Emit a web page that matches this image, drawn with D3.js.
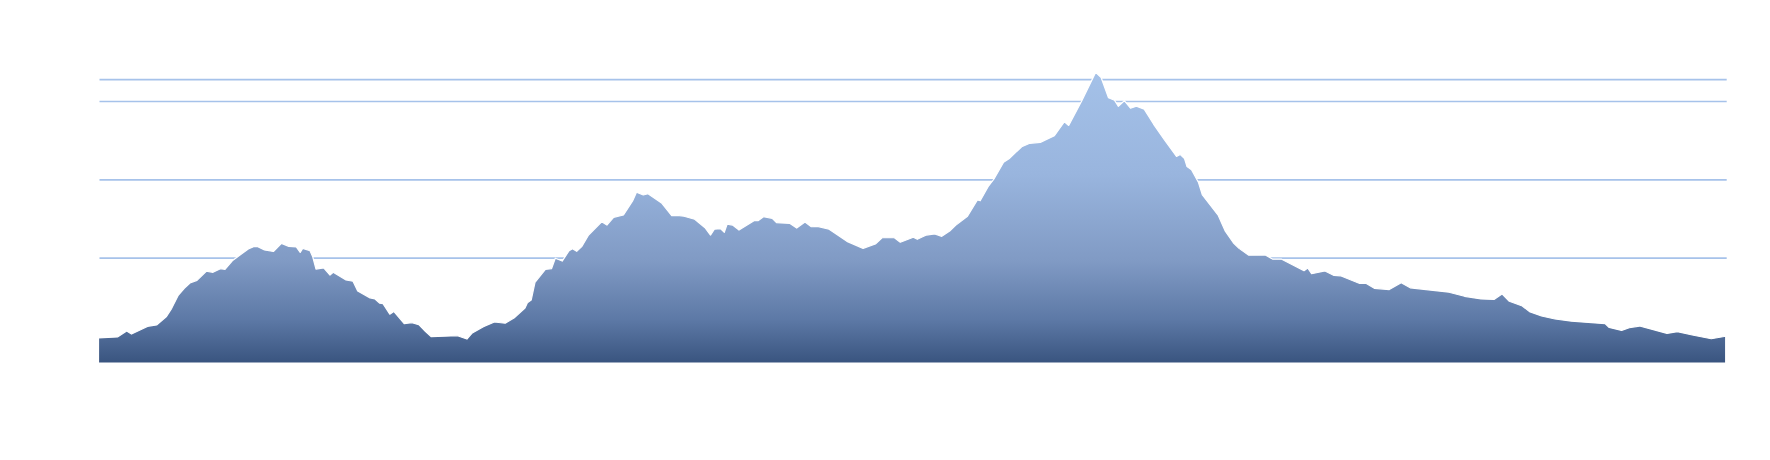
<!DOCTYPE html>
<html>
<head>
<meta charset="utf-8">
<script src="https://cdn.jsdelivr.net/npm/d3@7"></script>
<style>
  body { margin: 0; background: #fff; }
  svg { display: block; }
</style>
</head>
<body>
<div id="profile"></div>
<script>
// distance (km) and elevation (m)
const distance = [0, 1.90, 2.82, 3.30, 4.15, 4.90, 5.81, 6.80, 7.32, 7.95, 8.58, 9.15, 9.85, 10.78, 11.45, 12.19, 12.65, 13.38, 14.22, 14.98,
  15.50, 15.88, 16.60, 17.49, 18.30, 19.03, 19.78, 20.17, 20.42, 21.15, 21.43, 21.75, 22.52, 23.15, 23.47, 24.75, 25.45, 25.92, 27.15, 27.65,
  28.13, 28.45, 29.13, 29.53, 30.57, 31.35, 32.03, 32.68, 33.28, 35.90, 36.84, 37.38, 38.49, 39.59, 40.67, 41.55, 42.65, 42.89, 43.27, 43.65,
  44.69, 45.30, 45.68, 46.37, 47.06, 47.40, 47.82, 48.32, 49.01, 50.32, 50.84, 51.51, 52.50, 53.41, 53.80, 54.48, 54.95, 56.34, 57.32, 57.84,
  58.55, 59.62, 60.65, 61.20, 61.59, 62.19, 62.58, 62.86, 63.41, 64.05, 65.55, 65.95, 66.50, 67.37, 67.80, 69.11, 69.82, 70.65, 71.28, 71.88,
  73.06, 74.84, 76.46, 77.69, 78.36, 79.59, 80.18, 81.48, 81.88, 82.79, 83.62, 84.33, 85.12, 85.71, 86.90, 87.89, 88.17, 88.96, 89.55, 90.51,
  91.05, 92.32, 93.13, 94.18, 95.59, 96.59, 97.02, 98.37, 99.71, 100.27, 101.00, 101.60, 101.99, 102.58, 103.20, 103.79, 104.57, 105.50, 106.60, 107.80,
  108.18, 108.60, 108.85, 109.30, 110.00, 110.39, 111.98, 112.68, 113.48, 114.05, 115.03, 116.68, 117.43, 118.32, 120.55, 120.92, 121.31, 122.65, 123.55, 124.20,
  126.12, 126.78, 127.58, 129.08, 130.27, 131.17, 135.05, 136.60, 138.25, 139.55, 140.35, 141.08, 142.38, 143.10, 144.30, 145.65, 147.30, 150.68, 151.07, 152.31,
  153.08, 154.10, 155.48, 156.85, 157.89, 159.38, 161.28, 162.72];
const elevation = [490, 496, 534, 515, 541, 564, 573, 627, 679, 760, 807, 841, 858, 916, 909, 932, 928, 983, 1023, 1058,
  1073, 1074, 1052, 1042, 1094, 1075, 1071, 1036, 1062, 1047, 1007, 930, 937, 892, 909, 860, 852, 790, 746, 739,
  712, 709, 642, 659, 582, 587, 575, 533, 498, 504, 483, 522, 562, 592, 584, 617, 681, 715, 732, 845,
  928, 932, 999, 981, 1047, 1060, 1043, 1073, 1147, 1232, 1211, 1260, 1275, 1365, 1420, 1403, 1411, 1350, 1271, 1273,
  1267, 1248, 1194, 1147, 1184, 1188, 1165, 1216, 1211, 1179, 1239, 1239, 1264, 1254, 1226, 1222, 1192, 1230, 1200, 1203,
  1184, 1107, 1062, 1090, 1130, 1130, 1101, 1133, 1120, 1147, 1154, 1139, 1173, 1209, 1267, 1371, 1366, 1456, 1505, 1612,
  1634, 1711, 1733, 1739, 1782, 1871, 1847, 2010, 2186, 2152, 2024, 2008, 1969, 2005, 1957, 1970, 1951, 1856, 1754, 1649,
  1661, 1636, 1584, 1564, 1483, 1403, 1272, 1172, 1098, 1062, 1018, 1020, 993, 993, 919, 937, 900, 918, 889, 887,
  838, 838, 807, 799, 843, 810, 782, 756, 739, 736, 771, 724, 694, 658, 630, 611, 597, 581, 557, 538,
  555, 566, 543, 519, 530, 509, 485, 501];
const gridValues = [1000, 1500, 2000, 2140];

const width = 1770;
const height = 460;
const margin = { left: 98.5, right: 44.3, top: 78, bottom: 97 };

const data = distance.map((d, i) => ({ km: d, ele: elevation[i] }));

const x = d3.scaleLinear()
    .domain([0, d3.max(distance)])
    .range([margin.left, width - margin.right]);

const y = d3.scaleLinear()
    .domain([330, 2150])
    .range([height - margin.bottom, margin.top]);

const svg = d3.select("#profile").append("svg")
    .attr("width", width)
    .attr("height", height);

const grad = svg.append("defs").append("linearGradient")
    .attr("id", "fill")
    .attr("gradientUnits", "userSpaceOnUse")
    .attr("x1", 0).attr("x2", 0)
    .attr("y1", y(2186)).attr("y2", y(330));

[[0, "#a4c1e8"], [0.35, "#99b5de"], [0.65, "#809ac4"], [0.85, "#5d79a6"], [1, "#39547f"]]
    .forEach(s => grad.append("stop").attr("offset", s[0]).attr("stop-color", s[1]));

svg.append("g")
    .selectAll("line")
    .data(gridValues)
    .enter().append("line")
    .attr("x1", x(0) + 1)
    .attr("x2", x(d3.max(distance)) + 1)
    .attr("y1", d => y(d))
    .attr("y2", d => y(d))
    .attr("stroke", "#a6c2ea")
    .attr("stroke-width", 1.7);

const area = d3.area()
    .x(d => x(d.km))
    .y0(y(330))
    .y1(d => y(d.ele));

svg.append("path")
    .datum(data)
    .attr("d", area)
    .attr("fill", "url(#fill)")
    .attr("stroke", "#fff")
    .attr("stroke-width", 1.2)
    .attr("stroke-linejoin", "round");
</script>
</body>
</html>
